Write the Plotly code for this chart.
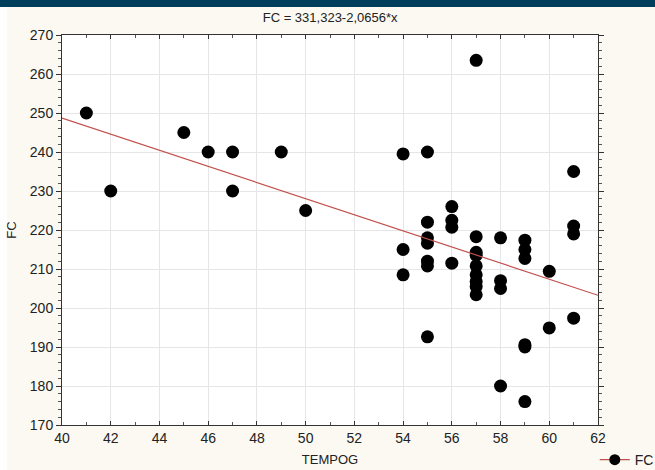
import plotly.graph_objects as go

# Data
tempog = [41, 42, 45, 46, 47, 47, 49, 50,
          54, 54, 54,
          55, 55, 55, 55, 55, 55, 55,
          56, 56, 56, 56,
          57, 57, 57, 57, 57, 57, 57, 57, 57,
          58, 58, 58, 58,
          59, 59, 59, 59, 59, 59,
          60, 60,
          61, 61, 61, 61]
fc = [250, 230, 245, 240, 240, 230, 240, 225,
      239.5, 215, 208.5,
      240, 222, 218, 216.6, 212, 210.8, 192.6,
      226, 222.5, 220.7, 211.5,
      263.5, 218.3, 214.3, 213.5, 210.8, 208.5, 206.8, 205.5, 203.4,
      218, 207, 205, 180,
      217.4, 215, 212.7, 190.6, 190, 176,
      209.4, 194.9,
      235, 221, 219, 197.4]

intercept = 331.323
slope = -2.0656
x_range = [40, 62]
y_range = [170, 270]
x_ticks = list(range(40, 63, 2))
y_ticks = list(range(170, 271, 10))

fig = go.Figure()

fig.add_trace(go.Scatter(
    x=tempog, y=fc, mode="markers",
    marker=dict(color="black", size=13, line=dict(width=0)),
    showlegend=False, hoverinfo="x+y"))

line_x = x_range
line_y = [intercept + slope * v for v in line_x]
fig.add_trace(go.Scatter(
    x=line_x, y=line_y, mode="lines",
    line=dict(color="#c0504d", width=1.2),
    showlegend=False, hoverinfo="skip"))

# legend entry
fig.add_trace(go.Scatter(
    x=[None], y=[None], mode="lines+markers", name="FC",
    line=dict(color="#c0504d", width=1.2),
    marker=dict(color="black", size=11),
    showlegend=True))

band_y0 = 1.0 + 28 / 390
fig.update_layout(
    width=655, height=470,
    margin=dict(l=62, r=57, t=35, b=45, autoexpand=False),
    paper_bgcolor="#fcf9f2",
    plot_bgcolor="white",
    font=dict(family="Liberation Sans, Arial, sans-serif", size=14, color="#222"),
    title=dict(text="FC = 331,323-2,0656*x", x=0.504, xanchor="center",
               y=0.962, yanchor="middle", font=dict(size=13, color="#222")),
    showlegend=True,
    legend=dict(x=0.994, y=-0.09, xanchor="left", yanchor="middle",
                bgcolor="rgba(0,0,0,0)", font=dict(size=14),
                itemwidth=30),
    shapes=[
        dict(type="rect", xref="paper", yref="paper",
             x0=-0.2, x1=-55 / 536, y0=-0.2, y1=band_y0,
             fillcolor="#fefefe", line=dict(width=0), layer="below"),
        dict(type="rect", xref="paper", yref="paper",
             x0=-0.2, x1=1.2, y0=band_y0, y1=1.2,
             fillcolor="#003f5c", line=dict(width=0), layer="above"),
    ],
)

fig.update_xaxes(
    range=x_range, tickvals=x_ticks, showgrid=True, gridcolor="#e6e6e6",
    gridwidth=1, zeroline=False, showline=True, linecolor="#333", linewidth=1,
    mirror="ticks", ticks="inside", ticklen=4, tickcolor="#333",
    minor=dict(dtick=1, ticks="inside", ticklen=3, tickcolor="#555", showgrid=False),
    title=dict(text="TEMPOG", standoff=10, font=dict(size=13)),
    tickfont=dict(size=14))

fig.update_yaxes(
    range=y_range, tickvals=y_ticks, showgrid=True, gridcolor="#e6e6e6",
    gridwidth=1, zeroline=False, showline=True, linecolor="#333", linewidth=1,
    mirror="ticks", ticks="outside", ticklen=5, tickcolor="#333",
    minor=dict(dtick=2, ticks="outside", ticklen=3, tickcolor="#555", showgrid=False),
    title=dict(text="FC", standoff=10, font=dict(size=13)),
    tickfont=dict(size=14))

fig.write_html("out.html", config={"displayModeBar": False},
               post_script="document.body.style.margin='0';")
